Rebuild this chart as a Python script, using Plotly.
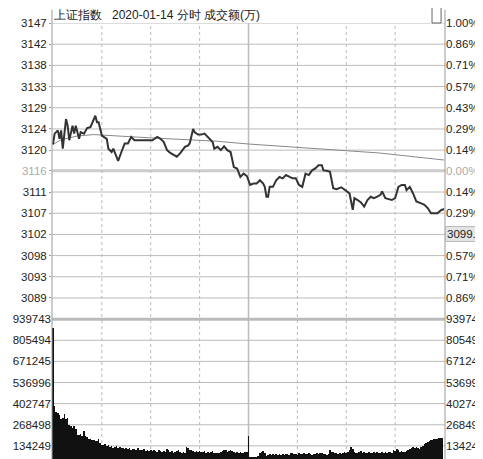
import plotly.graph_objects as go

price_min = [0,1,3,4,5,6,8,9,10,12,13,14,16,17,19,21,23,25,26,27,28,30,33,34,36,37,38,40,42,44,46,48,50,53,57,61,64,66,68,70,72,75,76,78,81,83,84,86,87,89,91,93,95,98,99,101,103,105,107,109,111,113,115,117,119,121,123,125,127,129,130,131,132,133,135,137,139,141,143,145,147,149,151,153,155,157,159,161,163,165,166,168,170,172,174,177,179,180,182,184,185,187,189,191,193,195,197,199,201,202,204,206,208,210,212,214,216,217,219,221,223,226,228,230,232,234,236,238,240]
price = [3121.2,3123.5,3124.2,3122.4,3124.2,3120.3,3126.6,3125.2,3122.1,3125.2,3123.5,3125.2,3122.4,3123.8,3123.5,3124.7,3124.9,3126.3,3127.3,3125.9,3125.9,3123.1,3122.4,3120.3,3119.6,3120.3,3119.3,3117.7,3119.6,3121.4,3121.4,3122.8,3122.1,3122.1,3122.2,3122.1,3122.8,3122.4,3121.7,3120.0,3119.4,3118.9,3118.6,3119.3,3120.7,3121.0,3121.5,3124.5,3123.8,3123.3,3123.3,3123.5,3122.8,3121.7,3120.3,3120.7,3120.0,3120.8,3120.0,3119.6,3116.4,3116.1,3114.3,3115.0,3114.5,3112.6,3112.9,3112.9,3113.6,3112.9,3112.2,3110.1,3110.1,3112.2,3112.2,3113.6,3114.3,3114.0,3114.7,3114.3,3114.0,3114.0,3112.6,3112.2,3115.0,3114.7,3115.7,3116.1,3116.8,3116.8,3115.7,3115.6,3115.4,3111.9,3111.7,3112.1,3111.5,3111.2,3110.8,3107.3,3109.8,3109.4,3108.9,3108.0,3109.4,3110.1,3109.8,3110.1,3110.5,3111.2,3109.8,3109.6,3109.4,3109.8,3112.2,3112.6,3112.6,3111.5,3112.2,3110.8,3109.1,3108.7,3108.4,3107.7,3106.6,3106.6,3106.6,3107.2,3107.5]

avg_min = [0,5,15,25,60,100,120,160,200,240]
avg_price = [3121.2,3122.2,3123.0,3123.3,3122.6,3121.9,3121.3,3120.3,3119.4,3117.9]

vol_k = [880,386,347,342,331,303,310,338,303,310,
266,262,250,258,238,205,200,211,194,227,
196,190,177,176,168,172,163,165,179,150,
142,140,145,135,138,128,130,122,126,132,
120,125,118,122,115,120,112,118,110,116,
112,108,118,106,110,104,112,102,108,100,
106,98,104,100,96,108,102,94,100,96,
112,104,92,98,90,96,100,110,94,88,
96,90,124,122,110,104,98,96,100,94,
98,92,96,100,88,92,90,96,98,86,
90,88,86,92,98,104,106,96,102,108,
98,94,90,96,88,92,86,90,92,96,
198,64,62,63,62,64,70,88,96,100,
86,70,76,80,78,82,76,80,78,82,
76,80,78,82,80,78,86,90,84,80,
78,88,82,84,90,80,84,86,82,78,
80,84,90,82,86,88,80,84,78,82,
110,94,92,88,86,84,90,80,86,92,
88,94,104,128,116,96,86,88,92,98,
90,96,88,86,92,88,90,94,88,92,
90,86,92,88,94,90,92,96,90,104,
100,112,104,96,98,92,96,100,104,112,
120,124,118,126,122,116,124,130,148,152,
156,162,168,172,176,180,178,184,186,182,
18]

price_ticks = [3147,3142.5,3138,3133.5,3129,3124.5,3120,3115.6,3111.1,3106.6,3102.1,3097.6,3093.1,3088.6]
price_labels = ["3147","3142","3138","3133","3129","3124","3120","<span style='color:#aaa'>3116</span>","3111","3107","3102","3098","3093","3089"]
pct_labels = ["1.00%","0.86%","0.71%","0.57%","0.43%","0.29%","0.14%","<span style='color:#aaa'>0.00%</span>","0.14%","0.29%","0.43%","0.57%","0.71%","0.86%"]
vol_ticks = [939743,805494,671245,536996,402747,268498,134249]
vol_labels = ["939743","805494","671245","536996","402747","268498","134249"]

P_TOP, P_BOT = 3147, 3084.1
V_TOP = 939743
F = "Liberation Sans, Arial, sans-serif"
fig = go.Figure()
fig.add_trace(go.Scatter(x=avg_min, y=avg_price, mode="lines", line=dict(color="#888", width=1), xaxis="x", yaxis="y"))
fig.add_trace(go.Scatter(x=price_min, y=price, mode="lines", line=dict(color="#333", width=2), xaxis="x", yaxis="y"))
fig.add_trace(go.Bar(x=list(range(len(vol_k))), y=[v*1000 for v in vol_k], marker=dict(color="#111", line_width=0), width=0.4, xaxis="x", yaxis="y3"))
fig.add_trace(go.Scatter(x=[0], y=[3116], mode="markers", marker_opacity=0, xaxis="x", yaxis="y2"))
fig.add_trace(go.Scatter(x=[0], y=[0], mode="markers", marker_opacity=0, xaxis="x", yaxis="y4"))

tf = dict(family=F, size=11.5, color="#222")
fig.update_layout(
    width=483, height=459, margin=dict(l=44, r=46, t=15, b=0),
    paper_bgcolor="white", plot_bgcolor="white", showlegend=False, bargap=0,
    xaxis=dict(range=[-0.6, 240.6], showgrid=False, showticklabels=False, zeroline=False, fixedrange=True),
    yaxis=dict(domain=[0.333, 1], range=[P_BOT, P_TOP], tickvals=price_ticks, ticktext=price_labels, tickfont=tf,
               showgrid=False, zeroline=False, ticks="outside", ticklen=2, tickcolor="#999"),
    yaxis2=dict(domain=[0.333, 1], range=[P_BOT, P_TOP], overlaying="y", side="right", tickvals=price_ticks, ticktext=pct_labels,
                tickfont=tf, showgrid=False, zeroline=False, anchor="x", ticks="", ticklen=0),
    yaxis3=dict(domain=[0, 0.333], range=[0, V_TOP], tickvals=vol_ticks, ticktext=vol_labels, tickfont=tf,
                showgrid=False, zeroline=False, anchor="x", ticks="", ticklen=0),
    yaxis4=dict(domain=[0, 0.333], range=[0, V_TOP], overlaying="y3", side="right", tickvals=vol_ticks, ticktext=vol_labels,
                tickfont=tf, showgrid=False, zeroline=False, anchor="x", ticks="", ticklen=0),
)
shapes = []
for t in price_ticks:
    c, w = ("#ccc", 3) if t == 3115.6 else ("#bbb", 1)
    shapes.append(dict(type="line", xref="paper", x0=0, x1=1, yref="y", y0=t, y1=t, line=dict(color=c, width=w), layer="below"))
for t in vol_ticks:
    shapes.append(dict(type="line", xref="paper", x0=0, x1=1, yref="y3", y0=t, y1=t, line=dict(color="#bbb", width=1), layer="below"))
shapes.append(dict(type="line", xref="paper", x0=0, x1=1, yref="paper", y0=0.333, y1=0.333, line=dict(color="#bbb", width=3), layer="below"))
for m in [30, 60, 90, 150, 180, 210]:
    shapes.append(dict(type="line", xref="x", x0=m, x1=m, yref="paper", y0=0, y1=1, line=dict(color="#bbb", width=1, dash="dot"), layer="below"))
shapes.append(dict(type="line", xref="x", x0=120, x1=120, yref="paper", y0=0, y1=1, line=dict(color="#bbb", width=1.5), layer="below"))
for xp in [0, 1]:
    shapes.append(dict(type="line", xref="paper", x0=xp, x1=xp, yref="paper", y0=0, y1=1.03, line=dict(color="#999", width=1)))
shapes.append(dict(type="rect", xref="paper", x0=0.967, x1=0.99, yref="paper", y0=1.0, y1=1.035, line=dict(color="#666", width=1), fillcolor="white"))
fig.update_layout(shapes=shapes)
fig.add_annotation(xref="paper", yref="paper", x=0.0, y=1.0, xanchor="left", yanchor="bottom", yshift=-1,
                   text="上证指数   2020-01-14 分时 成交额(万)", showarrow=False, font=dict(family=F, size=12, color="#222"))
fig.add_annotation(xref="paper", yref="y", x=1.0, y=3102.1, xanchor="left", yanchor="middle", xshift=0,
                   text="3099.19", showarrow=False, bgcolor="#e4e4e4", bordercolor="#bbb", borderwidth=1, borderpad=1,
                   font=dict(family=F, size=11.5, color="#222"))
fig.write_html("out.html")
